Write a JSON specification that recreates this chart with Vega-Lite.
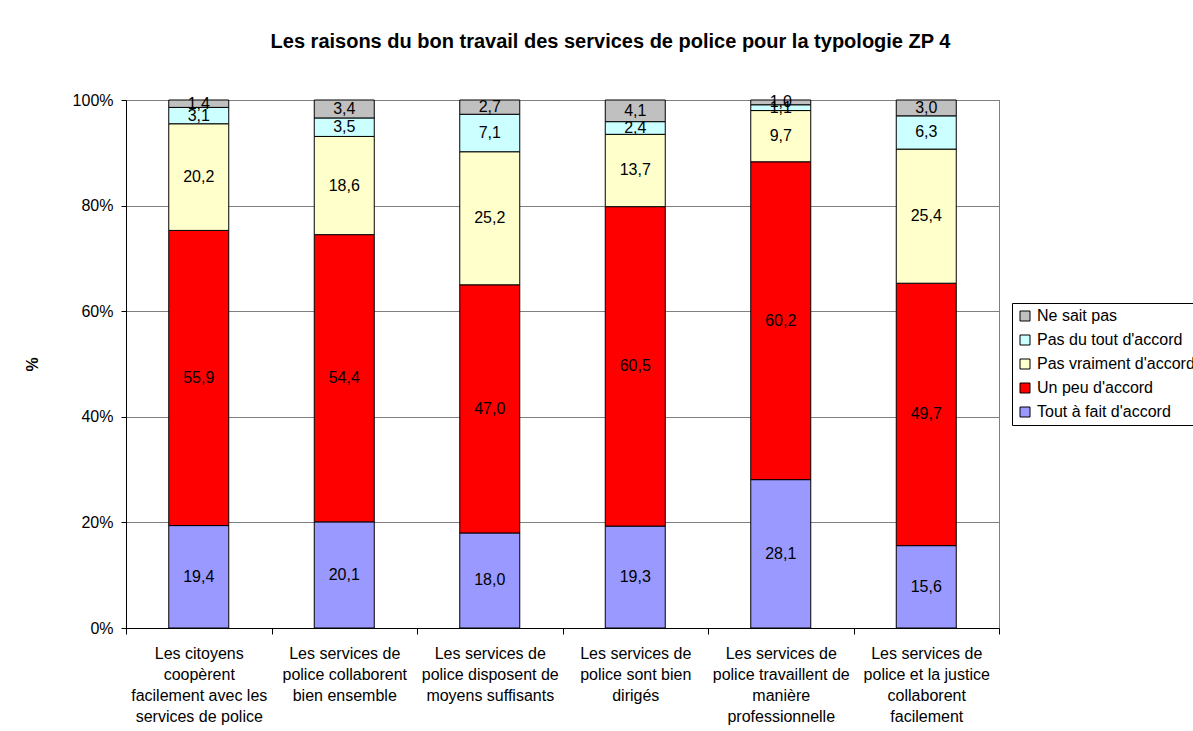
{
  "$schema": "https://vega.github.io/schema/vega-lite/v6.json",
  "autosize": "none",
  "width": 873,
  "height": 528,
  "padding": {"left": 126, "top": 100, "right": 194, "bottom": 103},
  "background": "white",
  "title": {
    "text": "Les raisons du bon travail des services de police pour la typologie ZP 4",
    "font": "Liberation Sans",
    "fontSize": 20,
    "fontWeight": "bold",
    "color": "black",
    "anchor": "middle",
    "dx": 48,
    "offset": 40
  },
  "data": {
    "values": [
      {"q": "Les citoyens|coopèrent|facilement avec les|services de police", "cat": "Tout à fait d'accord", "v": 19.4},
      {"q": "Les citoyens|coopèrent|facilement avec les|services de police", "cat": "Un peu d'accord", "v": 55.9},
      {"q": "Les citoyens|coopèrent|facilement avec les|services de police", "cat": "Pas vraiment d'accord", "v": 20.2},
      {"q": "Les citoyens|coopèrent|facilement avec les|services de police", "cat": "Pas du tout d'accord", "v": 3.1},
      {"q": "Les citoyens|coopèrent|facilement avec les|services de police", "cat": "Ne sait pas", "v": 1.4},
      {"q": "Les services de|police collaborent|bien ensemble", "cat": "Tout à fait d'accord", "v": 20.1},
      {"q": "Les services de|police collaborent|bien ensemble", "cat": "Un peu d'accord", "v": 54.4},
      {"q": "Les services de|police collaborent|bien ensemble", "cat": "Pas vraiment d'accord", "v": 18.6},
      {"q": "Les services de|police collaborent|bien ensemble", "cat": "Pas du tout d'accord", "v": 3.5},
      {"q": "Les services de|police collaborent|bien ensemble", "cat": "Ne sait pas", "v": 3.4},
      {"q": "Les services de|police disposent de|moyens suffisants", "cat": "Tout à fait d'accord", "v": 18.0},
      {"q": "Les services de|police disposent de|moyens suffisants", "cat": "Un peu d'accord", "v": 47.0},
      {"q": "Les services de|police disposent de|moyens suffisants", "cat": "Pas vraiment d'accord", "v": 25.2},
      {"q": "Les services de|police disposent de|moyens suffisants", "cat": "Pas du tout d'accord", "v": 7.1},
      {"q": "Les services de|police disposent de|moyens suffisants", "cat": "Ne sait pas", "v": 2.7},
      {"q": "Les services de|police sont bien|dirigés", "cat": "Tout à fait d'accord", "v": 19.3},
      {"q": "Les services de|police sont bien|dirigés", "cat": "Un peu d'accord", "v": 60.5},
      {"q": "Les services de|police sont bien|dirigés", "cat": "Pas vraiment d'accord", "v": 13.7},
      {"q": "Les services de|police sont bien|dirigés", "cat": "Pas du tout d'accord", "v": 2.4},
      {"q": "Les services de|police sont bien|dirigés", "cat": "Ne sait pas", "v": 4.1},
      {"q": "Les services de|police travaillent de|manière|professionnelle", "cat": "Tout à fait d'accord", "v": 28.1},
      {"q": "Les services de|police travaillent de|manière|professionnelle", "cat": "Un peu d'accord", "v": 60.2},
      {"q": "Les services de|police travaillent de|manière|professionnelle", "cat": "Pas vraiment d'accord", "v": 9.7},
      {"q": "Les services de|police travaillent de|manière|professionnelle", "cat": "Pas du tout d'accord", "v": 1.1},
      {"q": "Les services de|police travaillent de|manière|professionnelle", "cat": "Ne sait pas", "v": 1.0},
      {"q": "Les services de|police et la justice|collaborent|facilement", "cat": "Tout à fait d'accord", "v": 15.6},
      {"q": "Les services de|police et la justice|collaborent|facilement", "cat": "Un peu d'accord", "v": 49.7},
      {"q": "Les services de|police et la justice|collaborent|facilement", "cat": "Pas vraiment d'accord", "v": 25.4},
      {"q": "Les services de|police et la justice|collaborent|facilement", "cat": "Pas du tout d'accord", "v": 6.3},
      {"q": "Les services de|police et la justice|collaborent|facilement", "cat": "Ne sait pas", "v": 3.0}
    ]
  },
  "transform": [
    {"calculate": "indexof(['Tout à fait d\\'accord','Un peu d\\'accord','Pas vraiment d\\'accord','Pas du tout d\\'accord','Ne sait pas'], datum.cat)", "as": "ord"},
    {"stack": "v", "groupby": ["q"], "sort": [{"field": "ord", "order": "ascending"}], "as": ["v0", "v1"]},
    {"calculate": "(datum.v0 + datum.v1) / 2", "as": "mid"},
    {"calculate": "replace(format(datum.v, '.1f'), '.', ',')", "as": "lab"}
  ],
  "encoding": {
    "x": {
      "field": "q",
      "type": "nominal",
      "sort": null,
      "scale": {"paddingInner": 0, "paddingOuter": 0},
      "axis": {
        "title": null,
        "labelAngle": 0,
        "labelExpr": "datum.value ? split(datum.value, '|') : ''",
        "labelFont": "Liberation Sans",
        "labelFontSize": 16,
        "labelColor": "black",
        "labelLineHeight": 21,
        "labelBaseline": "top",
        "labelPadding": 11,
        "labelLimit": 200,
        "tickBand": "extent",
        "tickSize": 6,
        "tickColor": "black",
        "domainColor": "black",
        "grid": false
      }
    }
  },
  "layer": [
    {
      "mark": {"type": "bar", "width": 60, "stroke": "black", "strokeWidth": 1},
      "encoding": {
        "y": {
          "field": "v0",
          "type": "quantitative",
          "scale": {"domain": [0, 100], "clamp": true},
          "axis": {
            "title": "%",
            "titleFont": "Liberation Sans",
            "titleFontSize": 16,
            "titleFontWeight": "bold",
            "titleColor": "black",
            "titleX": -86,
            "titleY": 264,
            "values": [0, 20, 40, 60, 80, 100],
            "labelExpr": "datum.value + '%'",
            "labelFont": "Liberation Sans",
            "labelFontSize": 16,
            "labelColor": "black",
            "labelPadding": 8,
            "tickSize": 5,
            "tickColor": "black",
            "domainColor": "black",
            "gridColor": "#808080",
            "gridWidth": 1
          }
        },
        "y2": {"field": "v1"},
        "color": {
          "field": "cat",
          "type": "nominal",
          "scale": {
            "domain": ["Ne sait pas", "Pas du tout d'accord", "Pas vraiment d'accord", "Un peu d'accord", "Tout à fait d'accord"],
            "range": ["#C0C0C0", "#CCFFFF", "#FFFFCC", "#FF0000", "#9999FF"]
          },
          "legend": {
            "title": null,
            "orient": "none",
            "legendX": 886,
            "legendY": 203,
            "strokeColor": "black",
            "fillColor": "white",
            "padding": 5,
            "symbolType": "square",
            "symbolSize": 100,
            "symbolStrokeColor": "black",
            "symbolStrokeWidth": 1,
            "symbolOpacity": 1,
            "labelFont": "Liberation Sans",
            "labelFontSize": 16,
            "labelColor": "black",
            "labelLimit": 250,
            "rowPadding": 8,
            "labelOffset": 4
          }
        }
      }
    },
    {
      "mark": {"type": "text", "font": "Liberation Sans", "fontSize": 16, "color": "black", "baseline": "middle"},
      "encoding": {
        "y": {"field": "mid", "type": "quantitative"},
        "text": {"field": "lab"}
      }
    }
  ],
  "config": {
    "view": {"stroke": "#808080", "strokeWidth": 1}
  }
}
